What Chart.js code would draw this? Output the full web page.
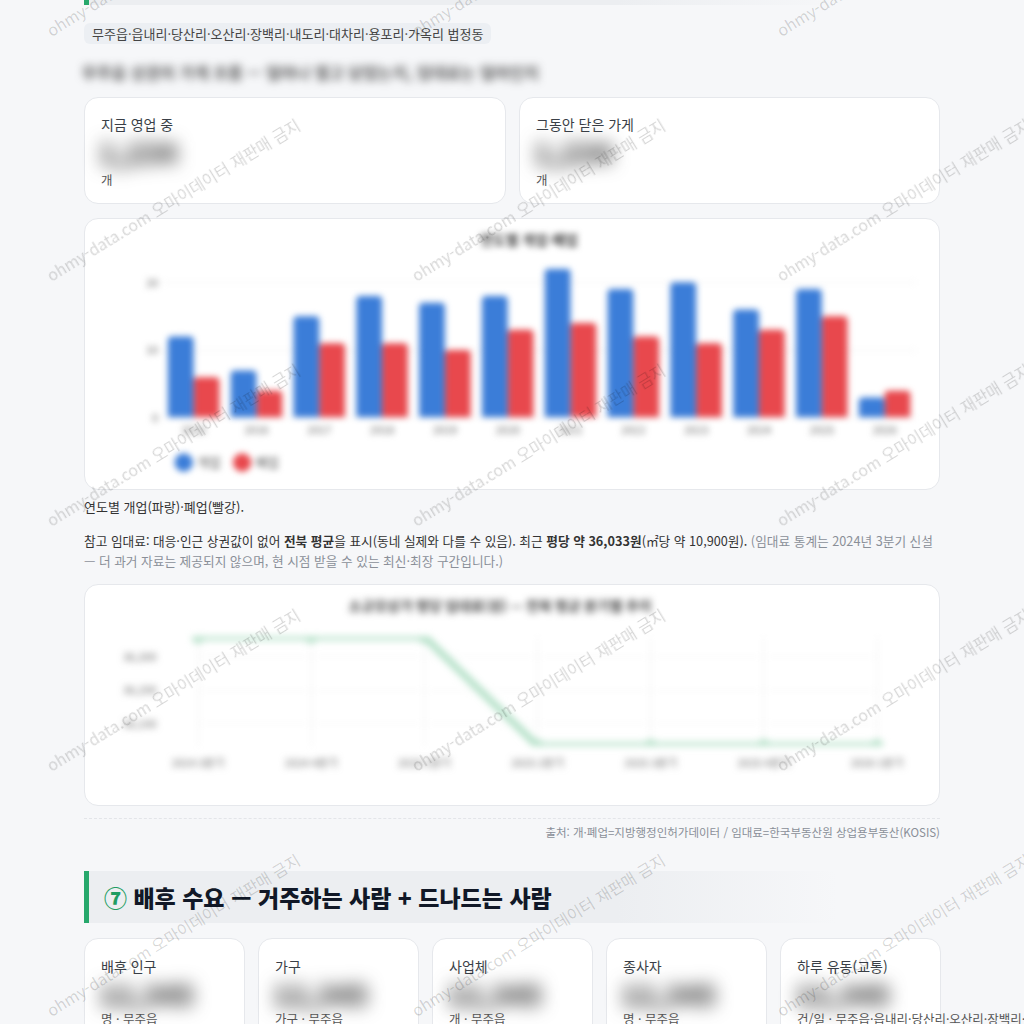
<!DOCTYPE html>
<html lang="ko">
<head>
<meta charset="utf-8">
<script src="https://cdn.jsdelivr.net/npm/chart.js@4.4.1/dist/chart.umd.min.js"></script>
<style>
  html, body { margin: 0; padding: 0; }
  body {
    width: 1024px; height: 1024px; overflow: hidden; position: relative;
    background: #f6f7f9; color: #333;
    font-family: "Noto Sans CJK KR", "Noto Sans", sans-serif;
  }
  .abs { position: absolute; }
  .card {
    position: absolute; background: #fff; border: 1px solid #e6e8ec;
    border-radius: 14px; box-sizing: border-box;
  }
  .lbl { position: absolute; left: 16px; font-size: 14px; color: #3a3f47; line-height: 20px; }
  .unit { position: absolute; left: 16px; font-size: 12.5px; color: #555; line-height: 18px; white-space: nowrap; }
  .num {
    position: absolute; left: 14px; font-size: 28px; font-weight: 800; color: #333;
    filter: blur(9px); line-height: 30px;
  }
  .head {
    position: absolute; left: 84px; width: 856px; box-sizing: border-box;
    background: linear-gradient(90deg, #eceef1 0%, #eceef1 62%, rgba(236,238,241,0) 88%);
    border-left: 5px solid #27a86c;
  }
  .wm {
    position: absolute; font-size: 16px; line-height: 16px; white-space: nowrap;
    color: rgba(0,0,0,0.16); transform-origin: 0 100%; transform: rotate(-31.5deg);
    pointer-events: none; z-index: 10;
  }
  .chartbox { position: absolute; left: 16px; right: 16px; }
  canvas { display: block; }
</style>
</head>
<body>

<!-- tail of the previous section heading -->
<div class="head" style="top:-47px; height:52px;"></div>

<div class="abs" style="left:84px; top:23px; height:21px; padding:0 8px; background:#eceff3; border-radius:6px; font-size:13px; line-height:21px; color:#444; white-space:nowrap;">무주읍·읍내리·당산리·오산리·장백리·내도리·대차리·용포리·가옥리 법정동</div>

<div class="abs" style="left:82px; top:61px; font-size:16px; font-weight:500; line-height:22px; color:#333; filter:blur(4.5px); white-space:nowrap;">무주읍 상권의 가게 흐름 — 얼마나 열고 닫았는지, 임대료는 얼마인지</div>

<div class="card" style="left:84px; top:97px; width:422px; height:107px;">
  <div class="lbl" style="top:16px;">지금 영업 중</div>
  <div class="num" style="top:39px;">1,234</div>
  <div class="unit" style="top:73px;">개</div>
</div>
<div class="card" style="left:519px; top:97px; width:421px; height:107px;">
  <div class="lbl" style="top:16px;">그동안 닫은 가게</div>
  <div class="num" style="top:39px;">1,234</div>
  <div class="unit" style="top:73px;">개</div>
</div>

<div class="card" style="left:84px; top:218px; width:856px; height:272px;">
  <div class="chartbox" style="top:12px; height:248px; filter:blur(3.2px);"><canvas id="chart-open"></canvas></div>
</div>

<div class="abs" style="left:84px; top:497px; font-size:13px; line-height:20px; color:#333;">연도별 개업(파랑)·폐업(빨강).</div>

<div class="abs" style="left:84px; top:531px; width:856px; font-size:12.7px; line-height:20px; color:#333;">참고 임대료: 대응·인근 상권값이 없어 <b>전북 평균</b>을 표시(동네 실제와 다를 수 있음). 최근 <b>평당 약 36,033원</b>(㎡당 약 10,900원). <span style="color:#8a8f98;">(임대료 통계는 2024년 3분기 신설 — 더 과거 자료는 제공되지 않으며, 현 시점 받을 수 있는 최신·최장 구간입니다.)</span></div>

<div class="card" style="left:84px; top:584px; width:856px; height:222px;">
  <div class="chartbox" style="top:12px; height:182px; filter:blur(3.5px);"><canvas id="chart-rent"></canvas></div>
</div>

<div class="abs" style="left:84px; top:818px; width:856px; border-top:1px dashed #e3e5e9;"></div>
<div class="abs" style="left:84px; top:823px; width:856px; text-align:right; font-size:11.5px; line-height:18px; color:#8a8f98;">출처: 개·폐업=지방행정인허가데이터 / 임대료=한국부동산원 상업용부동산(KOSIS)</div>

<div class="head" style="top:871px; height:52px;">
  <div class="abs" style="left:15px; top:0; line-height:52px; font-size:23px; font-weight:800; color:#111827; white-space:nowrap;"><span style="color:#1f9d63;">⑦</span> 배후 수요 — 거주하는 사람 + 드나드는 사람</div>
</div>

<div id="kpis"></div>

<script>
// 연도별 개업 / 폐업 (개)
const years = ['2015', '2016', '2017', '2018', '2019', '2020', '2021', '2022', '2023', '2024', '2025', '2026']
const opened = [12, 7, 15, 18, 17, 18, 22, 19, 20, 16, 19, 3]
const closed = [6, 4, 11, 11, 10, 13, 14, 12, 11, 13, 15, 4]

// 전북 평균 평당 임대료 (원)
const quarters = ['2024 3분기', '2024 4분기', '2025 1분기', '2025 2분기', '2025 3분기', '2025 4분기', '2026 1분기']
const rent = [36360, 36360, 36360, 36033, 36033, 36033, 36033]

const kpiLabels = ['배후 인구', '가구', '사업체', '종사자', '하루 유동(교통)']
const kpiUnits = ['명 · 무주읍', '가구 · 무주읍', '개 · 무주읍', '명 · 무주읍', '건/일 · 무주읍·읍내리·당산리·오산리·장백리·내도리']

const font = { family: '"Noto Sans CJK KR", "Noto Sans", sans-serif' }

const ctxOpen = document.getElementById('chart-open').getContext('2d')
const ctxRent = document.getElementById('chart-rent').getContext('2d')

const chartOpen = new Chart(ctxOpen, {
    type: 'bar',
    data: {
        labels: years,
        datasets: [
            { label: '개업', data: opened, backgroundColor: '#3b7dd8', borderRadius: 4 },
            { label: '폐업', data: closed, backgroundColor: '#e8484d', borderRadius: 4 }
        ]
    },
    options: {
        responsive: true,
        maintainAspectRatio: false,
        animation: false,
        barPercentage: 1,
        categoryPercentage: 0.82,
        layout: { padding: { left: 41, right: 7 } },
        plugins: {
            title: {
                display: true,
                text: '연도별 개업·폐업',
                color: '#444',
                font: { ...font, size: 14, weight: 'bold' },
                padding: { top: 0, bottom: 21 }
            },
            legend: {
                position: 'bottom',
                align: 'start',
                fullSize: false,
                labels: { usePointStyle: true, pointStyle: 'circle', padding: 15, color: '#555', font: { ...font, size: 13 } }
            },
            tooltip: { enabled: false }
        },
        scales: {
            x: {
                grid: { display: false, drawTicks: false },
                border: { display: false },
                ticks: { padding: 5, color: '#666', font: { ...font, size: 11 } }
            },
            y: {
                min: 0,
                max: Math.max(...opened, ...closed),
                grid: { color: '#eeeeee', drawTicks: false },
                border: { display: false },
                ticks: { stepSize: 10, padding: 4, color: '#666', font: { ...font, size: 11 } },
                afterBuildTicks: s => { s.ticks = s.ticks.filter(t => t.value % 10 === 0) }
            }
        }
    }
})

const rentMin = Math.min(...rent)
const rentMax = Math.max(...rent)

const chartRent = new Chart(ctxRent, {
    type: 'line',
    data: {
        labels: quarters,
        datasets: [
            {
                label: '평당 임대료',
                data: rent,
                borderColor: '#b3e0c7',
                backgroundColor: '#b3e0c7',
                borderWidth: 7,
                pointRadius: 3,
                tension: 0,
                fill: false
            }
        ]
    },
    options: {
        responsive: true,
        maintainAspectRatio: false,
        animation: false,
        layout: { padding: { left: 22, right: 46 } },
        plugins: {
            title: {
                display: true,
                text: '소규모상가 평당 임대료(원) — 전북 평균 분기별 추이',
                color: '#444',
                font: { ...font, size: 14, weight: 'bold' },
                padding: { top: 0, bottom: 23 }
            },
            legend: { display: false },
            tooltip: { enabled: false }
        },
        scales: {
            x: {
                grid: { color: '#efefef', drawTicks: false },
                border: { display: false },
                ticks: { padding: 10, color: '#666', font: { ...font, size: 11 } }
            },
            y: {
                min: rentMin,
                max: rentMax,
                grid: { color: '#f4f4f4', drawTicks: false },
                border: { display: false },
                ticks: {
                    stepSize: 100, padding: 4, crossAlign: 'far', color: '#666', font: { ...font, size: 11 },
                    callback: v => v.toLocaleString('ko-KR')
                },
                afterBuildTicks: s => {
                    s.ticks = s.ticks.filter(t => t.value % 100 === 0 && t.value > rentMin && t.value < rentMax)
                },
                afterFit: s => { s.width = 75 }
            }
        }
    }
})

// 배후 수요 카드
const kpis = document.getElementById('kpis')
kpiLabels.forEach((name, i) => {
    const card = document.createElement('div')
    card.className = 'card'
    card.style.left = (84 + i * 174) + 'px'
    card.style.top = '938px'
    card.style.width = '161px'
    card.style.height = '120px'
    card.innerHTML = `<div class="lbl" style="top:17px;">${name}</div>` +
        `<div class="num" style="top:40px;">12,345</div>` +
        `<div class="unit" style="top:71px;">${kpiUnits[i]}</div>`
    kpis.appendChild(card)
})

// watermark
const wmRows = [38, 283, 528, 773, 1018]
const wmCols = [52, 417, 782]
wmRows.forEach(y => {
    wmCols.forEach(x => {
        const d = document.createElement('div')
        d.className = 'wm'
        d.style.left = x + 'px'
        d.style.top = (y - 16) + 'px'
        d.textContent = 'ohmy-data.com 오마이데이터 재판매 금지'
        document.body.appendChild(d)
    })
})
</script>
</body>
</html>
